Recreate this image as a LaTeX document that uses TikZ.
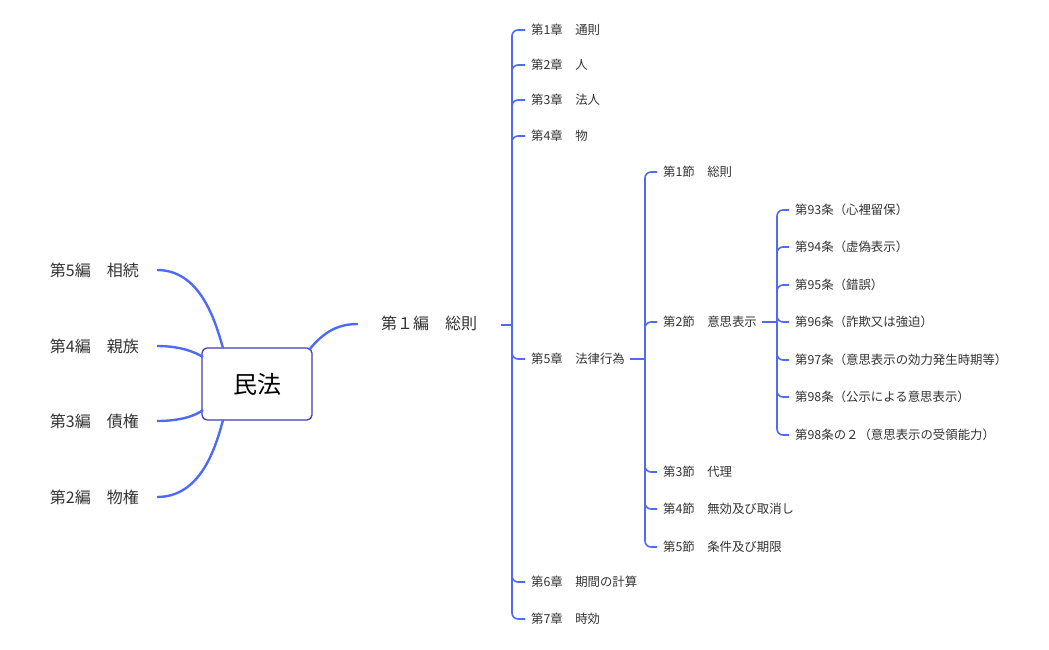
\documentclass[tikz,border=0pt]{standalone}
\usepackage{fontspec}
\setmainfont{Noto Sans CJK JP}
\begin{document}
\begin{tikzpicture}[x=1pt,y=-1pt,
  ln/.style={draw=lblue,line width=1.6pt,rounded corners=6pt},
  br/.style={draw=lblue,line width=2.4pt},
  t/.style={anchor=west,inner sep=0pt,font=\fontsize{12.4}{13}\selectfont,text=txt},
  lt/.style={anchor=east,inner sep=0pt,font=\fontsize{16}{17}\selectfont,text=txt}]
\definecolor{lblue}{HTML}{4F6BF5}
\definecolor{txt}{HTML}{333333}
\definecolor{rootc}{HTML}{4040B0}
\useasboundingbox (0,0) rectangle (1049,650);
\node[draw=rootc,line width=1.3pt,rounded corners=5pt,fill=white,minimum width=110pt,minimum height=72pt,font=\fontsize{24}{26}\selectfont,text=black] (root) at (257,384) {民法};
% left
\node[lt] (l5) at (139,270) {第5編　相続};
\node[lt] (l4) at (139,346) {第4編　親族};
\node[lt] (l3) at (139,421) {第3編　債権};
\node[lt] (l2) at (139,497) {第2編　物権};
\coordinate (e5) at (157,270);\coordinate (e4) at (157,346);
\coordinate (e3) at (157,421);\coordinate (e2) at (157,497);
\draw[br] (e5) .. controls (200,270) and (215,320) .. (223,348);
\draw[br] (e4) .. controls (180,346) and (195,352) .. (203,357);
\draw[br] (e3) .. controls (180,421) and (195,416) .. (203,410);
\draw[br] (e2) .. controls (200,497) and (215,450) .. (223,420);
% right
\node[t,font=\fontsize{16}{17}\selectfont] (b1) at (381,323) {第１編　総則};
\coordinate (b1s) at (358,324);
\draw[br] (309,350) .. controls (325,330) and (340,324) .. (b1s);
\coordinate (j1) at (512,325);
\draw[ln] (501,325) -- (j1);
\foreach \n/\y/\s in {c1/30/第1章　通則,c2/65/第2章　人,c3/100/第3章　法人,c4/136/第4章　物,c5/359/第5章　法律行為,c6/582/第6章　期間の計算,c7/619/第7章　時効}
  {\node[t] (\n) at (531,\y) {\s}; \draw[ln] (j1) |- ([xshift=-6pt]\n.west);}
\coordinate (j2) at (645,359);
\draw[ln] ([xshift=5pt]c5.east) -- (j2);
\foreach \n/\y/\s in {s1/172/第1節　総則,s2/322/第2節　意思表示,s3/472/第3節　代理,s4/509/第4節　無効及び取消し,s5/547/第5節　条件及び期限}
  {\node[t] (\n) at (663,\y) {\s}; \draw[ln] (j2) |- ([xshift=-6pt]\n.west);}
\coordinate (j3) at (777,322);
\draw[ln] ([xshift=5pt]s2.east) -- (j3);
\foreach \n/\y/\s in {a1/210/第93条（心裡留保）,a2/247/第94条（虚偽表示）,a3/285/第95条（錯誤）,a4/322/第96条（詐欺又は強迫）,a5/360/第97条（意思表示の効力発生時期等）,a6/397/第98条（公示による意思表示）,a7/435/第98条の２（意思表示の受領能力）}
  {\node[t] (\n) at (795,\y) {\s}; \draw[ln] (j3) |- ([xshift=-6pt]\n.west);}
\end{tikzpicture}
\end{document}
